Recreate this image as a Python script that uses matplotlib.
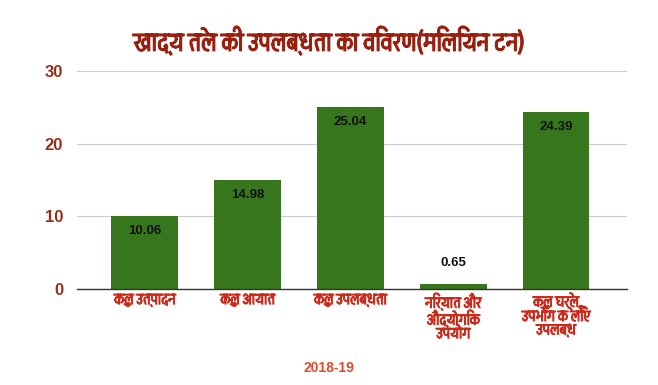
import matplotlib
matplotlib.use("Agg")
import matplotlib.pyplot as plt
import matplotlib.patheffects as pe
from matplotlib import font_manager
from matplotlib.ft2font import FT2Font

# find a font that can draw Devanagari
def find_deva_font():
    picks = []
    for f in font_manager.fontManager.ttflist:
        try:
            ft = FT2Font(f.fname)
            if ft.get_char_index(0x0915) and ft.get_char_index(0x093F):
                picks.append(f.name)
        except Exception:
            pass
    return picks

deva = sorted(set(find_deva_font()))
families = deva + ["Liberation Sans", "DejaVu Sans"]
plt.rcParams["font.family"] = families
LATIN = ["Liberation Sans", "DejaVu Sans"]

title = "खाद्य तेल की उपलब्धता का विवरण(मिलियन टन)"
categories = [
    "कुल उत्पादन",
    "कुल आयात",
    "कुल उपलब्धता",
    "निर्यात और\nऔद्योगिक\nउपयोग",
    "कुल घरेलू\nउपभोग के लिए\nउपलब्ध",
]
values = [10.06, 14.98, 25.04, 0.65, 24.39]
yticks = [0, 10, 20, 30]
xlabel = "2018-19"

fig = plt.figure(figsize=(6.58, 3.85), dpi=100)
ax = fig.add_axes([77 / 658, 1 - 289 / 385, 550 / 658, 218 / 385])

x = range(len(categories))
bars = ax.bar(x, values, width=0.65, color="#38761d", zorder=3)

for b, v in zip(bars, values):
    cx = b.get_x() + b.get_width() / 2
    off = -11 if v > 3 else 15
    ax.annotate(f"{v:.2f}", (cx, v), xytext=(0, off), textcoords="offset points",
                ha="center", va="center", fontsize=9.5, fontweight="bold",
                family=LATIN, color="#111111")

ax.set_ylim(0, 30)
ax.set_xlim(-0.66, 4.69)
ax.set_yticks(yticks)
ax.set_yticklabels([str(t) for t in yticks], family=LATIN,
                   fontsize=12, fontweight="bold", color="#992e1a")
ax.set_xticks(list(x))
ax.set_xticklabels(categories, fontsize=11.5, color="#cc2a1a",
                   linespacing=0.95, va="top")
bold_red = [pe.withStroke(linewidth=0.7, foreground="#cc2a1a")]
for t in ax.get_xticklabels():
    t.set_path_effects(bold_red)
ax.tick_params(axis="both", length=0)
ax.tick_params(axis="y", pad=10)
ax.tick_params(axis="x", pad=3)
ax.grid(axis="y", color="#cccccc", linewidth=0.8, zorder=0)
for s in ["top", "right", "left"]:
    ax.spines[s].set_visible(False)
ax.spines["bottom"].set_color("#333333")
ax.spines["bottom"].set_linewidth(1.0)
ax.spines["bottom"].set_zorder(4)

fig.text(0.5, 1 - 41 / 385, title, ha="center", va="center", fontsize=19,
         color="#991f0f",
         path_effects=[pe.withStroke(linewidth=1.0, foreground="#991f0f")])
fig.text(0.5, 1 - 368 / 385, xlabel, ha="center", va="center", fontsize=10,
         fontweight="bold", color="#dd4b2a", family=LATIN)

fig.savefig("out.png", dpi=100)
